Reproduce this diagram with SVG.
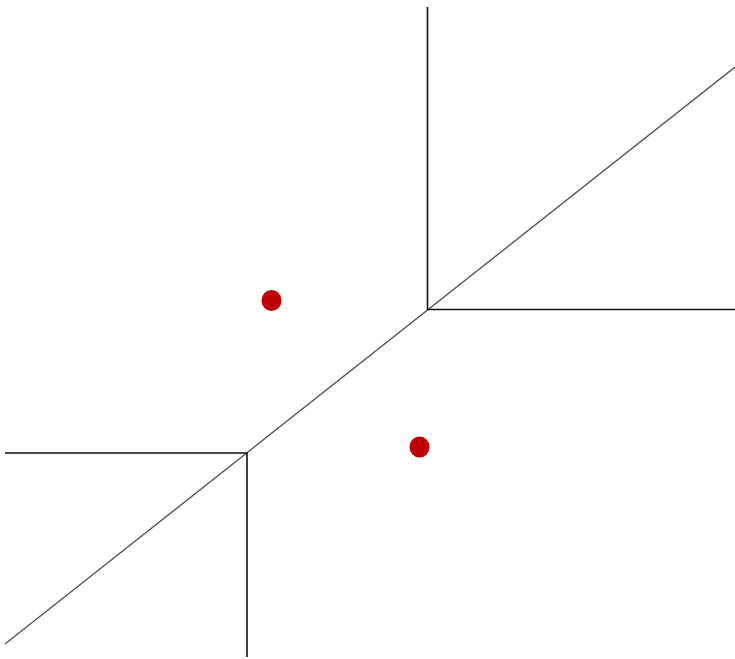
<svg xmlns="http://www.w3.org/2000/svg" width="735" height="659" viewBox="0 0 735 659">
<style>
.edge{stroke:#111;stroke-width:1.6;fill:none}
.diag{stroke:#555;stroke-width:1.4;fill:none}
.pt{fill:#c00000}
</style>
<rect width="735" height="659" fill="#fff"/>
<g id="connectors">
<line class="diag" x1="5" y1="644" x2="735" y2="67"/>
<polyline class="edge" points="427.5,7 427.5,309.5 735,309.5"/>
<polyline class="edge" points="5,453 247,453 247,657"/>
</g>
<g id="point-a"><ellipse class="pt" cx="271.5" cy="300.5" rx="10" ry="10.5"/></g>
<g id="point-b"><ellipse class="pt" cx="419.5" cy="447" rx="10" ry="10.5"/></g>
</svg>
